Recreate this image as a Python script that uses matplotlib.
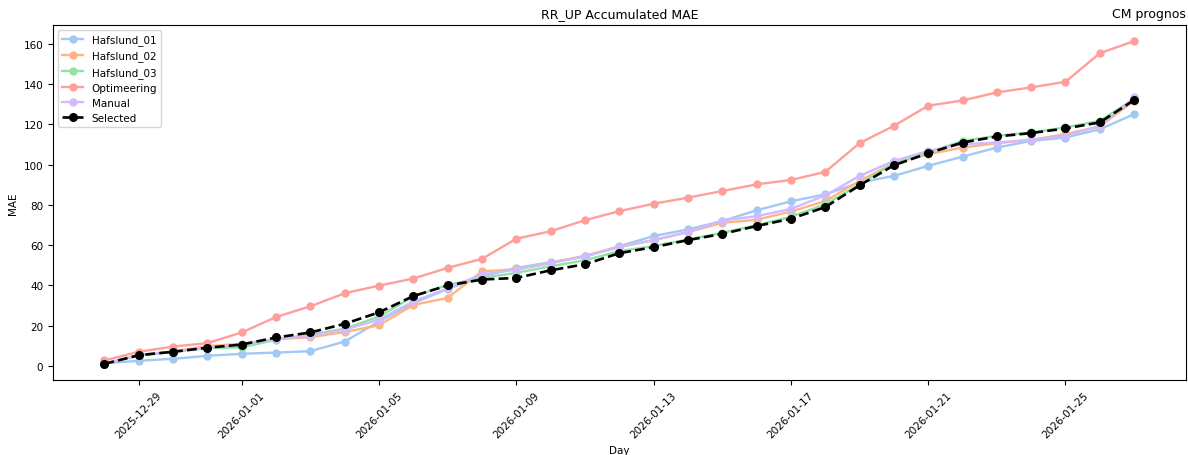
import numpy as np
import pandas as pd
import matplotlib
matplotlib.use("Agg")
import matplotlib.pyplot as plt
import matplotlib.dates as mdates

# -----------------------------
# DATA
# -----------------------------
days = pd.date_range("2025-12-28", "2026-01-27", freq="D")

hafslund_01 = [1.3, 2.5, 3.5, 5.0, 6.0, 6.6, 7.3, 12.1, 22.1, 31.2, 38.2,
               44.5, 48.7, 51.5, 54.2, 59.5, 64.5, 67.8, 72.0, 77.3, 81.8,
               85.2, 91.1, 94.4, 99.4, 104.0, 108.5, 111.8, 113.5, 117.6, 125.1]
hafslund_02 = [1.0, 5.3, 7.2, 9.8, 11.0, 13.3, 14.2, 16.8, 20.2, 30.3, 33.8,
               47.0, 47.9, 51.2, 54.8, 59.2, 62.5, 66.5, 71.1, 72.6, 76.7,
               81.9, 91.9, 100.7, 105.2, 108.5, 110.7, 112.3, 115.2, 119.0, 131.8]
hafslund_03 = [1.0, 5.3, 7.0, 8.8, 9.2, 13.0, 15.5, 18.5, 24.5, 34.5, 40.2,
               43.8, 46.2, 49.5, 52.5, 57.0, 59.5, 62.8, 66.1, 69.9, 74.1,
               80.3, 90.2, 100.7, 106.0, 111.8, 114.3, 116.0, 118.5, 121.8, 132.6]
optimeering = [2.7, 7.0, 9.6, 11.3, 16.6, 24.3, 29.6, 36.1, 39.9, 43.4, 48.7,
               53.2, 63.2, 66.9, 72.4, 76.9, 80.6, 83.6, 86.9, 90.2, 92.4,
               96.4, 110.7, 119.3, 129.3, 131.9, 135.9, 138.4, 141.2, 155.4, 161.4]
manual = [1.0, 5.3, 7.0, 9.0, 10.6, 13.5, 15.0, 18.0, 23.0, 32.0, 38.5,
          45.5, 47.8, 51.0, 54.5, 59.0, 62.5, 66.5, 72.2, 74.4, 78.0,
          84.7, 94.4, 101.8, 106.8, 110.2, 111.0, 112.3, 114.3, 119.3, 133.4]
selected = [1.0, 5.3, 7.0, 9.0, 10.6, 14.1, 16.6, 20.9, 26.6, 34.7, 40.0,
            42.9, 43.7, 47.5, 50.5, 56.0, 59.0, 62.5, 65.6, 69.5, 73.1,
            78.9, 89.7, 99.7, 105.7, 111.0, 114.0, 115.7, 118.0, 121.0, 132.1]

series = [
    ("Hafslund_01", hafslund_01, "#a1c9f4"),
    ("Hafslund_02", hafslund_02, "#ffb482"),
    ("Hafslund_03", hafslund_03, "#8de5a1"),
    ("Optimeering", optimeering, "#ff9f9b"),
    ("Manual", manual, "#d0bbff"),
]

# -----------------------------
# PLOT
# -----------------------------
plt.rcParams['font.size'] = 7.5

fig, ax = plt.subplots(figsize=(11.88, 4.56), dpi=100)
for name, vals, col in series:
    ax.plot(days, vals, marker='o', color=col, label=name, linewidth=1.7, markersize=5)
ax.plot(days, selected, marker='o', color='black', linestyle='--',
        label='Selected', linewidth=1.9, markersize=5.5)

ax.xaxis.set_major_locator(mdates.DayLocator(bymonthday=[1, 5, 9, 13, 17, 21, 25, 29]))
ax.xaxis.set_major_formatter(mdates.DateFormatter('%Y-%m-%d'))
plt.setp(ax.get_xticklabels(), rotation=45)

ax.set_title('RR_UP Accumulated MAE', fontsize=9)
ax.set_title('CM prognos', loc='right', fontsize=9)
ax.set_xlabel('Day')
ax.set_ylabel('MAE')
ax.legend(loc='upper left', fontsize=7.5)

fig.subplots_adjust(left=0.0446, right=0.998, bottom=0.1645, top=0.943)
fig.savefig('out.png', dpi=100)
